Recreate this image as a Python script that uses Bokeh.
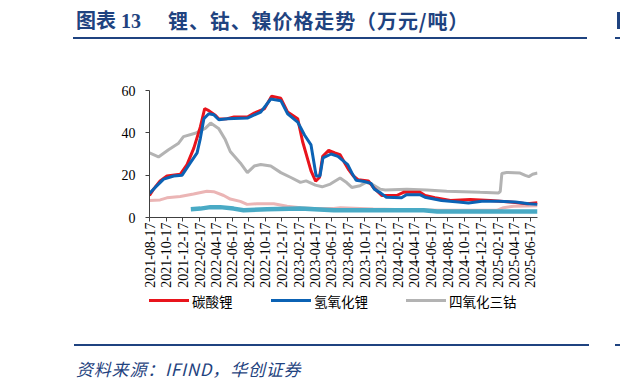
import math
import pandas as pd
from bokeh.plotting import figure
from bokeh.layouts import column
from bokeh.models import Range1d, FixedTicker, DatetimeTickFormatter, Div
from bokeh.embed import file_html
from bokeh.resources import INLINE

# ---------------- data (万元/吨) ----------------
li2co3_dates = ["2021-08-17", "2021-09-01", "2021-09-25", "2021-10-20", "2021-12-08",
                "2022-01-02", "2022-01-27", "2022-02-20", "2022-03-08", "2022-03-23",
                "2022-04-17", "2022-04-29", "2022-05-30", "2022-06-24", "2022-08-12",
                "2022-09-06", "2022-10-13", "2022-11-09", "2022-12-13", "2023-01-07",
                "2023-02-13", "2023-03-03", "2023-04-03", "2023-04-20", "2023-05-04",
                "2023-05-16", "2023-06-07", "2023-06-30", "2023-07-19", "2023-08-06",
                "2023-08-20", "2023-09-06", "2023-09-24", "2023-10-31", "2023-11-18",
                "2023-12-19", "2024-02-12", "2024-03-08", "2024-05-08", "2024-05-27",
                "2024-07-02", "2024-08-28", "2024-11-09", "2025-01-22", "2025-04-06",
                "2025-06-05", "2025-07-14"]
li2co3_vals = [10.4, 13.4, 17.3, 19.6, 20.4,
               25.0, 32.8, 42.8, 51.5, 50.5,
               48.2, 46.5, 46.7, 47.5, 47.5,
               49.3, 51.3, 57.3, 56.3, 49.8,
               46.7, 35.9, 22.0, 17.2, 18.9,
               28.9, 31.7, 30.5, 29.7, 25.5,
               22.5, 19.6, 17.8, 17.3, 14.2,
               10.4, 10.4, 11.9, 11.9, 10.4,
               9.3, 8.0, 8.5, 8.0, 7.3,
               6.5, 7.0]

lioh_dates = ["2021-08-17", "2021-09-07", "2021-10-08", "2021-11-14", "2021-12-15",
              "2022-01-14", "2022-02-08", "2022-02-20", "2022-03-05", "2022-03-23",
              "2022-04-11", "2022-04-29", "2022-05-30", "2022-08-12", "2022-09-30",
              "2022-11-06", "2022-12-13", "2023-01-07", "2023-02-13", "2023-03-10",
              "2023-04-03", "2023-04-22", "2023-05-06", "2023-05-17", "2023-06-16",
              "2023-07-11", "2023-08-16", "2023-09-03", "2023-09-16", "2023-10-16",
              "2023-11-10", "2023-11-22", "2023-12-17", "2024-01-05", "2024-03-01",
              "2024-03-19", "2024-05-07", "2024-05-26", "2024-07-26", "2024-09-26",
              "2024-11-02", "2024-12-21", "2025-02-21", "2025-04-24", "2025-06-12",
              "2025-07-14"]
lioh_vals = [11.4, 14.2, 18.1, 19.6, 20.0,
             25.8, 30.5, 37.4, 46.7, 49.0,
             48.5, 46.2, 46.7, 47.0, 49.8,
             56.0, 55.2, 49.0, 45.1, 39.0,
             34.3, 19.6, 19.6, 28.2, 30.0,
             28.9, 25.0, 20.4, 17.6, 17.0,
             16.1, 13.4, 11.4, 9.6, 9.3,
             10.8, 10.8, 9.6, 8.0, 7.3,
             6.8, 7.7, 7.7, 7.3, 6.5,
             6.2]

co3o4_dates = ["2021-08-17", "2021-09-19", "2021-10-26", "2021-12-02", "2021-12-20",
               "2022-02-01", "2022-03-10", "2022-03-30", "2022-04-28", "2022-05-23",
               "2022-06-10", "2022-07-17", "2022-08-12", "2022-09-06", "2022-09-30",
               "2022-11-06", "2022-12-13", "2023-01-19", "2023-02-23", "2023-03-16",
               "2023-04-19", "2023-05-14", "2023-06-13", "2023-07-19", "2023-08-12",
               "2023-08-31", "2023-09-30", "2023-10-22", "2023-11-12", "2023-12-13",
               "2024-01-01", "2024-03-20", "2024-06-02", "2024-08-14", "2024-10-15",
               "2024-12-15", "2025-02-20", "2025-02-27", "2025-03-05", "2025-03-22",
               "2025-05-11", "2025-05-30", "2025-06-12", "2025-06-26", "2025-07-14"]
co3o4_vals = [30.5, 28.6, 32.0, 35.1, 38.2,
              39.8, 42.1, 44.6, 42.1, 36.7,
              31.2, 25.8, 21.2, 24.3, 25.0,
              24.3, 21.2, 18.9, 16.6, 17.3,
              15.3, 14.5, 15.8, 18.7, 16.5,
              14.2, 15.0, 16.6, 15.8, 13.4,
              13.0, 13.3, 13.0, 12.4, 12.2,
              11.9, 11.6, 12.3, 20.8, 21.3,
              21.0, 19.9, 19.3, 20.4, 21.0]

coso4_dates = ["2021-08-17", "2021-09-25", "2021-10-20", "2021-12-08", "2022-01-26",
               "2022-03-16", "2022-04-10", "2022-05-17", "2022-06-10", "2022-07-17",
               "2022-08-11", "2022-09-16", "2022-11-17", "2023-01-05", "2023-02-23",
               "2023-04-13", "2023-06-26", "2023-07-20", "2023-11-18", "2024-03-20",
               "2024-07-22", "2024-11-22", "2025-02-14", "2025-03-11", "2025-04-17",
               "2025-07-14"]
coso4_vals = [8.0, 8.3, 9.3, 9.9, 11.1,
              12.4, 12.2, 10.4, 8.7, 7.6,
              6.2, 6.5, 6.5, 5.3, 4.6,
              4.2, 4.2, 4.6, 4.0, 3.7,
              3.4, 3.4, 3.4, 4.6, 5.3,
              5.6]

niso4_dates = ["2022-01-16", "2022-02-20", "2022-03-29", "2022-05-04", "2022-06-22",
               "2022-07-29", "2022-10-23", "2023-02-23", "2023-06-26", "2023-07-19",
               "2024-05-21", "2024-07-10", "2025-01-22", "2025-07-14"]
niso4_vals = [3.9, 4.2, 4.9, 4.9, 4.2,
              3.4, 3.9, 4.2, 3.4, 3.4,
              3.4, 2.8, 2.8, 2.8]

tick_labels = ["2021-08-17", "2021-10-17", "2021-12-17", "2022-02-17", "2022-04-17",
               "2022-06-17", "2022-08-17", "2022-10-17", "2022-12-17", "2023-02-17",
               "2023-04-17", "2023-06-17", "2023-08-17", "2023-10-17", "2023-12-17",
               "2024-02-17", "2024-04-17", "2024-06-17", "2024-08-17", "2024-10-17",
               "2024-12-17", "2025-02-17", "2025-04-17", "2025-06-17"]
y_ticks = [0, 20, 40, 60]

title_a = "图表 13"
title_b = "锂、钴、镍价格走势（万元/吨）"
source_text = "资料来源：IFIND，华创证券"
legend_names = ["碳酸锂", "氢氧化锂", "四氧化三钴"]

# ---------------- styling ----------------
NAVY = "#1F4380"
RED = "#E8141C"
BLUE = "#0B62B4"
GRAY = "#B3B3B3"
PINK = "#EBB5B5"
TEAL = "#49AAC5"
W = 620
TOP_H = 50
MAIN_END = 290          # canvas y where the chart figure ends
MAIN_H = MAIN_END - TOP_H
BOT_H = 384 - MAIN_END


def ts(lst):
    return pd.to_datetime(lst)


def box(l, t, w, h, color=NAVY):
    return (f'<div style="position:absolute;left:{l}px;top:{t}px;width:{w}px;'
            f'height:{h}px;background:{color}"></div>')


def txt(l, t, s, size, color, extra, lh=None):
    lh = size if lh is None else lh
    return (f'<div style="position:absolute;left:{l}px;top:{t}px;white-space:nowrap;'
            f'font-size:{size}px;line-height:{lh}px;color:{color};{extra}">{s}</div>')


# ---------------- title strip (HTML) ----------------
top_html = (f'<div style="position:relative;width:{W}px;height:{TOP_H}px;'
            f'overflow:hidden;background:white;margin:0;padding:0">'
            + txt(76, 11, title_a, 20, NAVY,
                  "font-weight:bold;font-family:'Liberation Serif','Noto Sans CJK SC'")
            + txt(168, 11, title_b, 20, NAVY,
                  "font-weight:bold;letter-spacing:0.9px;font-family:'Noto Sans CJK SC'")
            + box(73, 36.5, 514, 2) + box(615, 36.5, 5, 2) + box(617, 12, 3, 17)
            + '</div>')
top = Div(text=top_html, width=W, height=TOP_H, margin=0)

# ---------------- main chart ----------------
p = figure(width=W, height=MAIN_H, x_axis_type="datetime",
           x_range=Range1d(pd.Timestamp("2021-08-17"), pd.Timestamp("2025-07-14")),
           y_range=Range1d(0, 60),
           output_backend="svg", toolbar_location=None,
           min_border_left=149, min_border_right=83,
           min_border_top=90 - TOP_H, min_border_bottom=MAIN_END - 219,
           margin=0)
p.outline_line_color = None
p.xgrid.visible = False
p.ygrid.visible = False
p.background_fill_color = "white"
p.border_fill_color = "white"

r_co = p.line(ts(coso4_dates), coso4_vals, line_color=PINK, line_width=3)
r_ni = p.line(ts(niso4_dates), niso4_vals, line_color=TEAL, line_width=4.5)
r_gray = p.line(ts(co3o4_dates), co3o4_vals, line_color=GRAY, line_width=3)
r_red = p.line(ts(li2co3_dates), li2co3_vals, line_color=RED, line_width=3)
r_blue = p.line(ts(lioh_dates), lioh_vals, line_color=BLUE, line_width=3)

tick_ms = [pd.Timestamp(d).timestamp() * 1000 for d in tick_labels]
xa = p.xaxis[0]
xa.ticker = FixedTicker(ticks=tick_ms)
fmt = "%Y-%m-%d"
xa.formatter = DatetimeTickFormatter(days=fmt, months=fmt, years=fmt, hours=fmt,
                                     minutes=fmt, seconds=fmt, milliseconds=fmt,
                                     microseconds=fmt, minsec=fmt, hourmin=fmt)
xa.major_label_orientation = math.pi / 2
xa.major_label_standoff = 1
ya = p.yaxis[0]
ya.ticker = FixedTicker(ticks=y_ticks)
ya.major_label_standoff = 10
for ax in (xa, ya):
    ax.axis_line_color = "#404040"
    ax.axis_line_width = 1
    ax.major_tick_line_color = "#404040"
    ax.major_tick_in = 0
    ax.major_tick_out = 4
    ax.minor_tick_line_color = None
    ax.major_label_text_font = "Liberation Serif"
    ax.major_label_text_font_size = "14px"
    ax.major_label_text_color = "black"

# ---------------- legend + source strip (HTML) ----------------
y0 = MAIN_END
leg_cy = 300.5 - y0          # legend row centre inside this strip
LEG_LH = 20                  # line box tall enough to hold the CJK glyph box
leg_items = [(149, RED, legend_names[0]), (271, BLUE, legend_names[1]),
             (406, GRAY, legend_names[2])]
leg_html = ""
for (lx, col, name) in leg_items:
    leg_html += box(lx, leg_cy - 1.5, 40, 3, col)
    leg_html += txt(lx + 43, leg_cy - LEG_LH / 2, name, 13.5, "black",
                    "font-family:'Noto Sans CJK SC'", lh=LEG_LH)

bot_html = (f'<div style="position:relative;width:{W}px;height:{BOT_H}px;'
            f'overflow:hidden;background:white;margin:0;padding:0">'
            + leg_html
            + box(74, 344 - y0, 515, 2) + box(615, 344 - y0, 5, 2)
            + txt(76, 369 - y0 - 12, source_text, 17, NAVY,
                  "font-style:italic;letter-spacing:0.8px;font-family:'Noto Sans CJK SC'",
                  lh=24)
            + '</div>')
bot = Div(text=bot_html, width=W, height=BOT_H, margin=0)

layout = column(top, p, bot, spacing=0, margin=0)
open("out.html", "w").write(file_html(layout, INLINE))
